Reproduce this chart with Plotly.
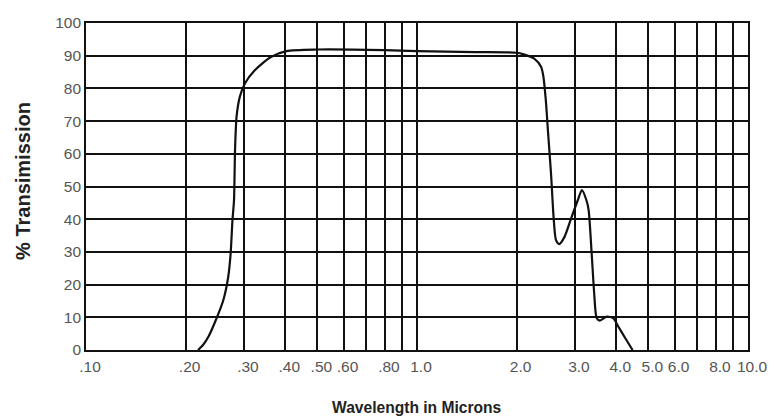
import plotly.graph_objects as go

# Transmission curve
wavelength = [0.218, 0.226, 0.2345, 0.248, 0.260, 0.269, 0.2735, 0.277, 0.280, 0.282, 0.285,
              0.2915, 0.302, 0.323, 0.362, 0.403, 0.50, 0.80, 1.0, 1.5, 2.0,
              2.10, 2.26, 2.37, 2.41, 2.45, 2.49, 2.54, 2.59, 2.63, 2.69,
              2.79, 2.92, 3.06, 3.15, 3.25, 3.30, 3.37, 3.43, 3.49, 3.57,
              3.74, 3.92, 4.06, 4.26, 4.48]
transmission = [0, 1.6, 4.1, 9.7, 15.3, 22.4, 29.5, 39.7, 45.8, 61.1, 71.3,
                77.4, 81.5, 85.5, 89.6, 91.4, 91.9, 91.7, 91.4, 91.1, 90.9,
                90.4, 89.1, 86.6, 83.5, 76.4, 66.2, 54.0, 39.7, 33.6, 32.4,
                34.6, 40.2, 45.8, 48.9, 45.8, 42.8, 29.6, 17.4, 9.8, 9.0,
                10.2, 9.7, 7.1, 3.6, 0]

x_gridvals = [0.1, 0.2, 0.3, 0.4, 0.5, 0.6, 0.7, 0.8, 0.9, 1.0,
              2.0, 3.0, 4.0, 5.0, 6.0, 7.0, 8.0, 9.0, 10.0]
x_ticktext = [".10", ".20", ".30", ".40", ".50", ".60", "", ".80", "", "1.0",
              "2.0", "3.0", "4.0", "5.0", "6.0", "", "8.0", "", "10.0"]
y_ticks = [0, 10, 20, 30, 40, 50, 60, 70, 80, 90, 100]

tick_font = dict(family="Liberation Sans, Arial, sans-serif", size=15.5, color="#555555")
title_family = "Liberation Sans, Arial, sans-serif"

fig = go.Figure()
fig.add_trace(go.Scatter(
    x=wavelength, y=transmission, mode="lines",
    line=dict(color="#111111", width=2.2, shape="spline", smoothing=0.7),
    showlegend=False, hoverinfo="x+y",
))

fig.update_layout(
    width=774, height=419,
    margin=dict(l=86, r=26, t=23, b=69),
    paper_bgcolor="white", plot_bgcolor="white",
    xaxis=dict(
        type="log", range=[-1, 1],
        tickmode="array", tickvals=x_gridvals, ticktext=x_ticktext,
        showgrid=True, gridcolor="#111111", gridwidth=1.6,
        showline=True, linecolor="#111111", linewidth=1.6, mirror=True,
        ticks="", tickfont=tick_font, ticklabelshift=4, ticklabelstandoff=2,
        zeroline=False, automargin=False,
    ),
    yaxis=dict(
        range=[0, 100],
        tickmode="array", tickvals=y_ticks,
        showgrid=True, gridcolor="#111111", gridwidth=1.6,
        showline=True, linecolor="#111111", linewidth=1.6, mirror=True,
        ticks="", tickfont=tick_font, ticklabelstandoff=0,
        zeroline=False, automargin=False,
    ),
    annotations=[
        dict(text="<b>Wavelength in Microns</b>", xref="paper", yref="paper",
             x=0.5, y=0, xanchor="center", yanchor="middle", yshift=-57,
             showarrow=False, font=dict(family=title_family, size=15.6, color="#222222")),
        dict(text="<b>% Transimission</b>", xref="paper", yref="paper",
             x=0, y=0.517, xanchor="center", yanchor="middle", xshift=-63,
             textangle=-90, showarrow=False,
             font=dict(family=title_family, size=20, color="#222222")),
    ],
)

fig.write_html("out.html", config={"displayModeBar": False},
               post_script="document.body.style.margin='0';")
